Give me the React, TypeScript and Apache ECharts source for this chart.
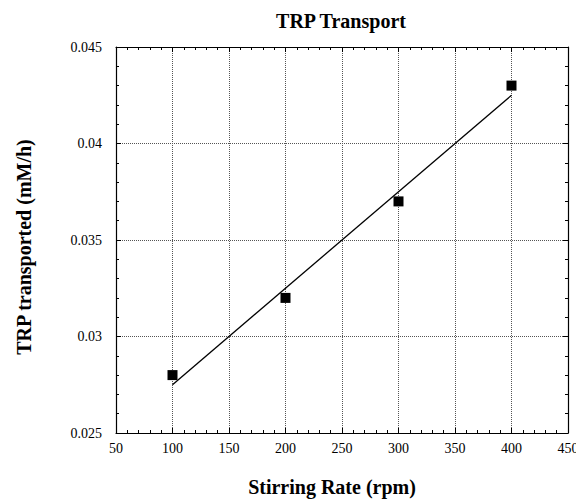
import React, { useEffect, useRef } from "react";
import * as echarts from "echarts";

const stirringRates = [100, 200, 300, 400];
const trpValues = [0.028, 0.032, 0.037, 0.043];
const fitX = [100, 400];
const fitY = [0.0275, 0.0425];

const FONT = "Liberation Serif";

export default function App() {
  const ref = useRef<HTMLDivElement>(null);
  useEffect(() => {
    if (!ref.current) return;
    const chart = echarts.init(ref.current, null, { renderer: "svg" });
    const axisLine = { show: true, lineStyle: { color: "#000", width: 1.2 } };
    const common = {
      axisLine,
      axisTick: { show: true, inside: true, length: 5, lineStyle: { color: "#000" } },
      minorTick: { show: true, splitNumber: 5, length: 3, lineStyle: { color: "#000" } },
    };
    chart.setOption({
      animation: false,
      backgroundColor: "#fff",
      title: {
        text: "TRP Transport",
        left: 336,
        top: 6,
        textAlign: "center",
        textStyle: { fontFamily: FONT, fontWeight: "bold", fontSize: 20, color: "#000" },
      },
      grid: { left: 116, right: 8, top: 47, bottom: 67, outerBoundsMode: "none" },
      xAxis: [
        {
          type: "value",
          min: 50,
          max: 450,
          interval: 50,
          position: "bottom",
          ...common,
          axisLabel: { fontFamily: FONT, fontSize: 14, color: "#000", margin: 8 },
          splitLine: { show: true, lineStyle: { type: "dotted", color: "#555" } },
          name: "Stirring Rate (rpm)",
          nameLocation: "middle",
          nameGap: 44,
          nameTextStyle: {
            fontFamily: FONT,
            fontWeight: "bold",
            fontSize: 20,
            color: "#000",
            padding: [0, 20, 0, 0],
          },
        },
        {
          type: "value",
          min: 50,
          max: 450,
          interval: 50,
          position: "top",
          ...common,
          axisLabel: { show: false },
          splitLine: { show: false },
        },
      ],
      yAxis: [
        {
          type: "value",
          min: 0.025,
          max: 0.045,
          interval: 0.005,
          position: "left",
          ...common,
          axisLabel: { fontFamily: FONT, fontSize: 14, color: "#000", margin: 14 },
          splitLine: { show: true, lineStyle: { type: "dotted", color: "#555" } },
          name: "TRP transported (mM/h)",
          nameLocation: "middle",
          nameGap: 82,
          nameTextStyle: {
            fontFamily: FONT,
            fontWeight: "bold",
            fontSize: 20,
            color: "#000",
            padding: [0, 14, 0, 0],
          },
        },
        {
          type: "value",
          min: 0.025,
          max: 0.045,
          interval: 0.005,
          position: "right",
          ...common,
          axisLabel: { show: false },
          splitLine: { show: false },
        },
      ],
      series: [
        {
          type: "line",
          data: fitX.map((x, i) => [x, fitY[i]]),
          showSymbol: false,
          symbol: "none",
          lineStyle: { color: "#000", width: 1.3 },
          z: 2,
        },
        {
          type: "scatter",
          data: stirringRates.map((x, i) => [x, trpValues[i]]),
          symbol: "rect",
          symbolSize: 10,
          itemStyle: { color: "#000", opacity: 1 },
          z: 3,
        },
      ],
    });
    return () => chart.dispose();
  }, []);
  return <div ref={ref} style={{ width: 576, height: 500, position: "absolute", left: 0, top: 0 }} />;
}
